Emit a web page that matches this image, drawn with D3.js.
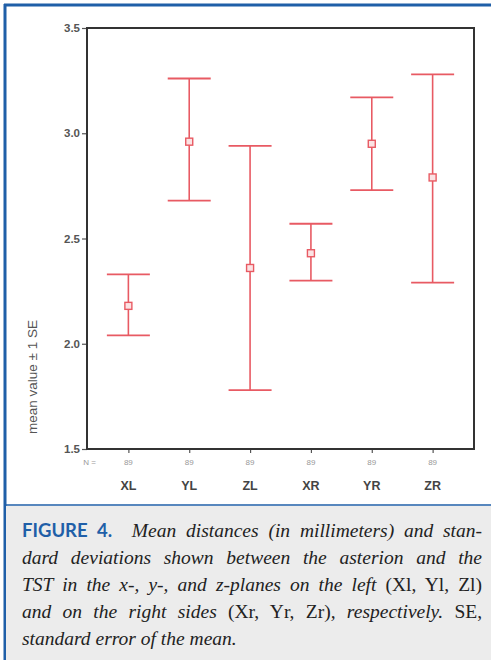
<!DOCTYPE html>
<html>
<head>
<meta charset="utf-8">
<script src="https://cdn.jsdelivr.net/npm/d3@7"></script>
<style>
  body { margin: 0; background: #fff; }
  #wrap { position: relative; width: 491px; height: 660px; overflow: hidden; }
  #caption {
    position: absolute; left: 6px; top: 506px; width: 485px; height: 154px;
    background: #ececec; box-sizing: border-box; padding: 11px 9px 0 16px;
    font-family: "Liberation Serif", serif; font-style: italic; font-size: 19.5px;
    color: #222;
  }
  #caption .ln { display: block; height: 27px; line-height: 27px; text-align: justify; text-align-last: justify; white-space: nowrap; }
  #caption .ln.last { text-align-last: left; }
  #caption .fig { font-family: Lato, sans-serif; font-style: normal; font-weight: bold; color: #1f5fa8; font-size: 18.5px; }
  #caption .up { font-style: normal; }
</style>
</head>
<body>
<div id="wrap"></div>
<script>
const categories = ['XL', 'YL', 'ZL', 'XR', 'YR', 'ZR'];
const means = [2.18, 2.96, 2.36, 2.43, 2.95, 2.79];
const upper = [2.33, 3.26, 2.94, 2.57, 3.17, 3.28];
const lower = [2.04, 2.68, 1.78, 2.30, 2.73, 2.29];
const nValues = [89, 89, 89, 89, 89, 89];
const yTicks = [1.5, 2.0, 2.5, 3.0, 3.5];

const width = 491, height = 660;
const plot = { left: 87, right: 474, top: 28, bottom: 449 };
const red = '#e85a63';

const wrap = d3.select('#wrap');
const svg = wrap.append('svg')
  .attr('width', width)
  .attr('height', height)
  .style('position', 'absolute').style('left', 0).style('top', 0);

// blue page rules
svg.append('line').attr('x1', 4).attr('x2', width).attr('y1', 5).attr('y2', 5)
  .attr('stroke', '#1f5fa8').attr('stroke-width', 3);
svg.append('line').attr('x1', 5).attr('x2', 5).attr('y1', 4).attr('y2', height)
  .attr('stroke', '#1f5fa8').attr('stroke-width', 3);
svg.append('line').attr('x1', 5).attr('x2', width).attr('y1', 505).attr('y2', 505)
  .attr('stroke', '#1f5fa8').attr('stroke-width', 1.5);

const x = d3.scalePoint()
  .domain(categories)
  .range([plot.left, plot.right])
  .padding(0.68);

const y = d3.scaleLinear()
  .domain([1.5, 3.5])
  .range([plot.bottom, plot.top]);

// y axis
const yAxis = svg.append('g')
  .attr('transform', `translate(${plot.left},0)`)
  .call(d3.axisLeft(y).tickValues(yTicks).tickFormat(d3.format('.1f')).tickSize(5).tickSizeOuter(0));
yAxis.select('.domain').remove();
yAxis.selectAll('line').attr('stroke', '#555').attr('stroke-width', 1.2);
yAxis.selectAll('text')
  .attr('font-family', 'Arial, "Liberation Sans", sans-serif')
  .attr('font-size', 11.5).attr('font-weight', 'bold').attr('fill', '#555').attr('dx', 1);

// x axis ticks
const xAxis = svg.append('g')
  .attr('transform', `translate(0,${plot.bottom})`)
  .call(d3.axisBottom(x).tickSize(4).tickSizeOuter(0).tickFormat(''));
xAxis.select('.domain').remove();
xAxis.selectAll('line').attr('stroke', '#555').attr('stroke-width', 1.2);

// frame
svg.append('rect')
  .attr('x', plot.left).attr('y', plot.top)
  .attr('width', plot.right - plot.left).attr('height', plot.bottom - plot.top)
  .attr('fill', 'none').attr('stroke', '#333').attr('stroke-width', 2);

// N row
svg.append('text')
  .attr('x', 96).attr('y', 465).attr('text-anchor', 'end')
  .attr('font-family', 'Arial, "Liberation Sans", sans-serif').attr('font-size', 8)
  .attr('fill', '#999').text('N =');
svg.selectAll('.nval').data(categories).enter().append('text')
  .attr('class', 'nval')
  .attr('x', d => x(d)).attr('y', 465).attr('text-anchor', 'middle')
  .attr('font-family', 'Arial, "Liberation Sans", sans-serif').attr('font-size', 8)
  .attr('fill', '#999').text((d, i) => nValues[i]);

// category labels
svg.selectAll('.cat').data(categories).enter().append('text')
  .attr('class', 'cat')
  .attr('x', d => x(d)).attr('y', 490).attr('text-anchor', 'middle')
  .attr('font-family', 'Arial, "Liberation Sans", sans-serif').attr('font-size', 12.5)
  .attr('font-weight', 'bold').attr('fill', '#444').text(d => d);

// y label
svg.append('text')
  .attr('transform', 'translate(37,377) rotate(-90)')
  .attr('text-anchor', 'middle')
  .attr('font-family', 'Arial, "Liberation Sans", sans-serif').attr('font-size', 13.5)
  .attr('fill', '#555').text('mean value \u00b1 1 SE');

// error bars
const capW = 43;
const bars = svg.selectAll('.bar').data(categories).enter().append('g').attr('class', 'bar');
bars.append('line')
  .attr('x1', d => x(d)).attr('x2', d => x(d))
  .attr('y1', (d, i) => y(upper[i])).attr('y2', (d, i) => y(lower[i]))
  .attr('stroke', red).attr('stroke-width', 1.6);
bars.append('line')
  .attr('x1', d => x(d) - capW / 2).attr('x2', d => x(d) + capW / 2)
  .attr('y1', (d, i) => y(upper[i])).attr('y2', (d, i) => y(upper[i]))
  .attr('stroke', red).attr('stroke-width', 1.8);
bars.append('line')
  .attr('x1', d => x(d) - capW / 2).attr('x2', d => x(d) + capW / 2)
  .attr('y1', (d, i) => y(lower[i])).attr('y2', (d, i) => y(lower[i]))
  .attr('stroke', red).attr('stroke-width', 1.8);
bars.append('rect')
  .attr('x', d => x(d) - 3.5).attr('y', (d, i) => y(means[i]) - 3.5)
  .attr('width', 7).attr('height', 7)
  .attr('fill', '#fbe3e4').attr('stroke', red).attr('stroke-width', 1.4);

// caption
const captionLines = [
  '<span class="fig">FIGURE 4.</span>&nbsp; Mean distances (in millimeters) and stan-',
  'dard deviations shown between the asterion and the',
  'TST in the x-, y-, and z-planes on the left <span class="up">(Xl, Yl, Zl)</span>',
  'and on the right sides <span class="up">(Xr, Yr, Zr)</span>, respectively. <span class="up">SE,</span>',
  'standard error of the mean.'
];
wrap.append('div').attr('id', 'caption')
  .selectAll('span.ln').data(captionLines).enter().append('span')
  .attr('class', (d, i) => i === captionLines.length - 1 ? 'ln last' : 'ln')
  .html(d => d);
</script>
</body>
</html>
